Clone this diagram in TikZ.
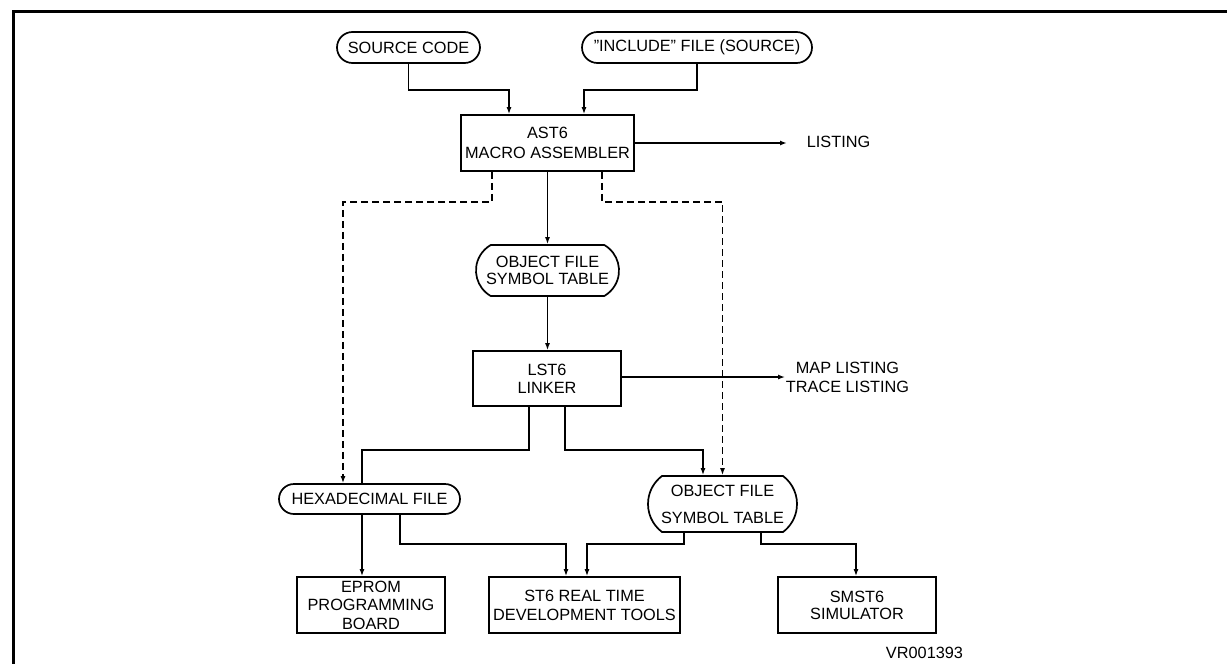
\documentclass[tikz,border=0pt]{standalone}
\usepackage{fontspec}
\setmainfont{Liberation Sans}
\usetikzlibrary{arrows.meta}
\usetikzlibrary{shapes.misc}

\begin{document}
\begin{tikzpicture}[x=1pt,y=-1pt,
    line width=1.7pt,
    every node/.style={font=\fontsize{16.3}{19}\selectfont, align=center, inner sep=0pt},
    prog/.style={draw, rectangle, minimum height=56pt},
    datafile/.style={draw, rounded rectangle, minimum height=31pt},
    objfile/.style={draw, rounded rectangle, rounded rectangle arc length=#1},
    arr/.style={-{Latex[length=7pt,width=5pt]}},
    dashline/.style={dash pattern=on 7pt off 4pt}]
    \useasboundingbox (0,0) rectangle (1227,664);
    \draw[line width=3pt] (13,664) -- (13,11) -- (1227,11);  %Rahmen
    % Quellen
    \node[datafile, minimum width=143pt] (src) at (408.5,47.5) {SOURCE CODE};
    \node[datafile, minimum width=230pt] (inc) at (697,47.5) {"INCLUDE" FILE (SOURCE)};
    % Assembler und Linker
    \node[prog, minimum width=173pt] (ast) at (547.5,143) {AST6\\[1pt]MACRO ASSEMBLER};
    \node[objfile=120, minimum width=143pt, minimum height=51pt] (obj) at (547.5,270.5) {OBJECT FILE\\[-2pt]SYMBOL TABLE};
    \node[prog, minimum width=148pt, minimum height=55pt] (lst) at (547,378.5) {LST6\\[-1pt]LINKER};
    \node[anchor=west] (listing) at (806,142) {LISTING};
    \node (maplst) at (847.5,377.5) {MAP LISTING\\TRACE LISTING};
    % Ausgabedateien
    \node[datafile, minimum width=181pt, minimum height=30pt] (hex) at (369.5,499) {HEXADECIMAL FILE};
    \node[objfile=106, minimum width=149pt, minimum height=56pt] (objsym) at (722.5,504) {OBJECT FILE\\[8pt]SYMBOL TABLE};
    % Werkzeuge
    \node[prog, minimum width=148pt] (eprom) at (371,605) {EPROM\\[-0.5pt]PROGRAMMING\\[-0.5pt]BOARD};
    \node[prog, minimum width=191pt] (st6) at (584.5,605) {ST6 REAL TIME\\DEVELOPMENT TOOLS};
    \node[prog, minimum width=158pt] (smst) at (857,605) {SMST6\\[-2pt]SIMULATOR};
    \node (vr) at (924.5,653) {VR001393};
    % Verbindungen
    \draw[arr] (src.south) -- ++(0,26) -| ([xshift=-38.5pt]ast.north);
    \draw[arr] (inc.south) -- ++(0,26) -| ([xshift=36.5pt]ast.north);
    \draw[arr] (ast.east) -- ([xshift=-19pt]ast.east -| listing.west);
    \draw[arr] (ast.south) -- (obj.north);
    \draw[arr] (obj.south) -- (obj.south |- lst.north);
    \draw[arr, dashline] ([xshift=-55.5pt]ast.south) -- ++(0,30) -| ([xshift=-26.5pt]hex.north);
    \draw[arr, dashline] ([xshift=54.5pt]ast.south) -- ++(0,30) -| (objsym.north);
    \draw[arr] ([yshift=1.5pt]lst.east) -- ([yshift=1.5pt]lst.east -| maplst.west);
    \draw ([xshift=-18pt]lst.south) -- ++(0,43) -| ([xshift=-7.5pt]hex.north);
    \draw[arr] ([xshift=18pt]lst.south) -- ++(0,43) -| ([xshift=-19.5pt]objsym.north);
    \draw[arr] ([xshift=-7.5pt]hex.south) -- ([xshift=-7.5pt]hex.south |- eprom.north);
    \draw[arr] ([xshift=30.5pt]hex.south) -- ++(0,29) -| ([xshift=-18.5pt]st6.north);
    \draw[arr] ([xshift=-38.5pt]objsym.south) -- ++(0,11) -| ([xshift=2.5pt]st6.north);
    \draw[arr] ([xshift=38.5pt]objsym.south) -- ++(0,11) -| ([xshift=-1pt]smst.north);
\end{tikzpicture}
\end{document}
